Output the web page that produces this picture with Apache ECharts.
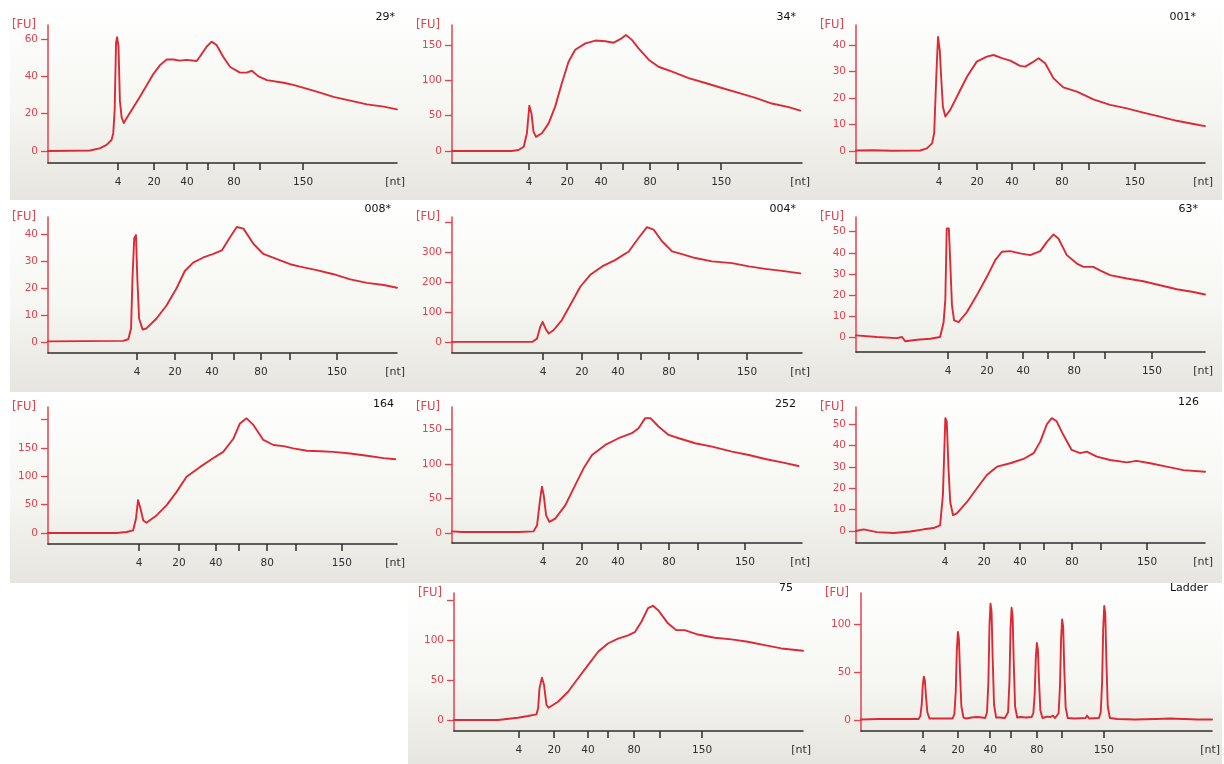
<!DOCTYPE html>
<html>
<head>
<meta charset="utf-8">
<script src="https://cdn.jsdelivr.net/npm/echarts@6/dist/echarts.min.js"></script>
<style>
html,body{margin:0;padding:0;background:#ffffff;}
#chart{width:1224px;height:764px;}
</style>
</head>
<body>
<div id="chart"></div>
<script>
// ---------- data ----------
// ladder fragment sizes (nt) used for x ticks; only some are labelled
const ladderSizes = [4, 20, 40, 60, 80, 100, 150];
const labeledSizes = [4, 20, 40, 80, 150];

const sampleNames = ['29*', '34*', '001*', '008*', '004*', '63*', '164', '252', '126', '75', 'Ladder'];

// migration position (0-100 across the run window) of each ladder size, per sample
const ladder_29  = [20.1, 30.4, 39.8, 45.8, 53.3, 60.7, 73.1];
const ladder_34  = [22.0, 32.9, 42.6, 48.9, 56.6, 64.6, 76.9];
const ladder_001 = [23.8, 34.7, 44.7, 51.0, 59.0, 66.8, 79.9];
const ladder_008 = [25.5, 36.4, 47.0, 53.3, 61.0, 69.3, 82.8];
const ladder_004 = [26.0, 37.1, 47.4, 54.0, 62.0, 70.3, 84.3];
const ladder_63  = [26.4, 37.5, 47.9, 55.0, 62.5, 71.3, 84.8];
const ladder_164 = [26.1, 37.5, 48.1, 54.7, 62.8, 71.1, 84.2];
const ladder_252 = [26.0, 37.1, 47.4, 54.0, 62.0, 70.3, 83.7];
const ladder_126 = [25.5, 36.7, 47.0, 53.9, 61.9, 70.2, 83.4];
const ladder_75  = [18.6, 28.7, 38.4, 44.1, 51.6, 59.0, 71.1];
const ladder_L   = [17.7, 27.6, 36.8, 42.7, 50.1, 57.3, 69.2];

// y tick values and labelled values [FU]
const yTicks_29 = [0, 20, 40, 60];            const yLabels_29 = [0, 20, 40, 60];
const yTicks_34 = [0, 50, 100, 150];          const yLabels_34 = [0, 50, 100, 150];
const yTicks_001 = [0, 10, 20, 30, 40];       const yLabels_001 = [0, 10, 20, 30, 40];
const yTicks_008 = [0, 10, 20, 30, 40];       const yLabels_008 = [0, 10, 20, 30, 40];
const yTicks_004 = [0, 100, 200, 300, 400];   const yLabels_004 = [0, 100, 200, 300];
const yTicks_63 = [0, 10, 20, 30, 40, 50];    const yLabels_63 = [0, 10, 20, 30, 40, 50];
const yTicks_164 = [0, 50, 100, 150, 200];    const yLabels_164 = [0, 50, 100, 150];
const yTicks_252 = [0, 50, 100, 150];         const yLabels_252 = [0, 50, 100, 150];
const yTicks_126 = [0, 10, 20, 30, 40, 50];   const yLabels_126 = [0, 10, 20, 30, 40, 50];
const yTicks_75 = [0, 50, 100, 150];          const yLabels_75 = [0, 50, 100];
const yTicks_L = [0, 50, 100];                const yLabels_L = [0, 50, 100];

// y axis ranges [FU]
const yRange_29 = [-6.4, 67.5];
const yRange_34 = [-17, 178];
const yRange_001 = [-4.5, 47.5];
const yRange_008 = [-4.1, 46.3];
const yRange_004 = [-37, 417];
const yRange_63 = [-7.1, 57];
const yRange_164 = [-19.4, 222];
const yRange_252 = [-14.4, 182];
const yRange_126 = [-5.6, 58];
const yRange_75 = [-13.75, 159];
const yRange_L = [-11.5, 132];

// electropherogram traces: [migration position, fluorescence FU]
const trace_29 = [[0,0],[6,0.2],[12,0.3],[14.8,1.4],[16.7,3.2],[18.2,5.9],[18.7,9.5],[19.1,22],[19.5,58],[19.8,61],[20.2,56],[20.6,27],[21.1,18],[21.7,15],[23,19],[26.3,29],[30.1,41],[32.1,46],[34,49],[35.9,49],[37.8,48.4],[39.7,48.8],[42.6,48.2],[43.5,50.5],[45.5,56],[46.9,58.6],[48.3,56.8],[50.2,50.5],[52.2,45],[55,42],[56.9,42],[58.4,43],[60.3,40],[62.7,38],[67.5,36.6],[70.3,35.4],[77,31.8],[81.8,29],[86.6,27],[91.4,25],[96.2,23.8],[100,22.3]];
const trace_34 = [[0,0],[17.1,0],[19,1.4],[20.5,6],[21.4,25],[22.1,64],[22.7,53],[23.3,27],[24,20],[25.7,25],[27.6,39],[29.5,63],[31.4,96],[33.3,126],[35.2,143],[38.1,152],[41,156],[43.8,155],[46.2,153],[48.1,158],[49.7,164],[51.4,157],[53.3,145],[56.2,129],[59,119],[62.9,112],[67.6,103],[72.4,96],[77.1,89],[81.9,82],[86.7,75],[91.4,67],[96.2,62],[99.5,57]];
const trace_001 = [[0,0.2],[5,0.3],[10,0.1],[18.4,0.2],[20.3,1],[21.8,2.9],[22.4,6.7],[23,28],[23.5,43],[24,38],[24.4,28],[24.9,16.7],[25.6,13],[27,15.5],[29.4,21.8],[31.8,28],[34.6,33.7],[37.5,35.6],[39.4,36.2],[41.8,35],[44.2,34.1],[47,32.1],[48.5,31.8],[50.4,33.3],[52.3,35],[54.2,33.1],[56.6,27.4],[59.4,24],[63.3,22.4],[68,19.5],[72.8,17.4],[77.6,16.1],[82.3,14.5],[87.1,13],[91.9,11.4],[96.7,10.2],[100,9.4]];
const trace_008 = [[0,0.2],[10,0.3],[21.5,0.4],[23,1],[23.8,5],[24.2,23.3],[24.7,38.4],[25.2,39.6],[25.6,23.3],[26.1,8.7],[27.1,4.6],[28.2,5],[31.1,8.7],[34,13.6],[36.8,19.8],[39.2,26.3],[41.6,29.4],[44.5,31.3],[47.4,32.6],[49.8,33.9],[52.2,38.9],[54.1,42.6],[56,42],[58.9,36.3],[61.7,32.6],[65.6,30.7],[69.4,28.8],[72.2,27.9],[77,26.6],[81.8,25.1],[86.6,23.2],[91.4,21.9],[96.2,21.1],[100,20.1]];
const trace_004 = [[0,0],[22.9,0],[24.3,11],[25.2,50],[25.9,67],[26.7,45],[27.6,28],[29,39],[31.4,73],[34.3,134],[36.7,185],[39.5,224],[42.9,252],[46.7,274],[50.5,302],[53.3,347],[55.7,383],[57.6,375],[60,336],[62.9,302],[65.7,293],[69.5,280],[74.3,269],[80,263],[84.8,252],[89.5,244],[94.3,237],[99.5,229]];
const trace_63 = [[0,0.8],[6,0],[11.7,-0.5],[13.2,0],[14.1,-2],[17.5,-1.3],[21.3,-0.8],[24.1,0],[25.1,7],[25.6,18],[26,51.6],[26.6,51.6],[27,35.7],[27.5,15],[28.1,7.9],[29.4,7.1],[31.8,11.9],[34.6,19.8],[37.5,28.6],[39.9,36.5],[41.8,40.5],[44.2,40.8],[47,39.7],[49.9,38.9],[52.8,40.8],[54.7,45.2],[56.6,48.7],[58,46.8],[60.4,38.9],[63.3,34.9],[65.2,33.3],[68,33.3],[69.9,31.7],[72.8,29.4],[77.6,27.8],[82.3,26.5],[87.1,24.6],[91.9,22.7],[96.7,21.4],[100,20.2]];
const trace_164 = [[0,0],[19.6,0],[22.5,1.8],[24.4,4.7],[25.2,25],[25.8,58],[26.5,43],[27.3,22],[28.2,18],[31.1,31],[34,49],[36.8,72],[39.7,99],[43.5,116],[47.4,132],[50.2,143],[53.1,166],[55,193],[56.9,202],[58.9,190],[61.7,164],[64.6,155],[67.5,153],[70.3,149],[74.2,145],[78,144],[81.8,143],[86.6,140],[91.4,136],[96.2,132],[99.5,130]];
const trace_252 = [[0,2.4],[2.9,1.5],[19,1.5],[23.3,2.4],[24.3,11.1],[25.2,49.8],[25.7,66.8],[26.2,54.7],[26.9,25.6],[27.8,16],[29.5,20.8],[32.4,40.2],[35.2,69.2],[37.6,93.4],[40,112.7],[43.8,127.2],[47.6,136.9],[51.4,144.2],[53.3,151.4],[55.2,165.9],[56.7,165.9],[59,153.8],[61.9,141.7],[64.8,136.9],[69.5,129.7],[74.3,124.8],[80,117.6],[84.8,112.7],[89.5,106.9],[94.3,102.1],[99,96.8]];
const trace_126 = [[0,0],[2.2,0.8],[6,-0.5],[10.8,-0.9],[15.6,-0.2],[19.4,0.8],[22.2,1.4],[24.1,2.7],[24.9,16.8],[25.6,52.8],[26,51.3],[26.5,29.3],[27,13.6],[27.8,7.4],[28.9,8.2],[31.8,13.6],[34.6,19.9],[37.5,26.2],[40.4,30.1],[44.2,31.7],[48,33.7],[50.9,36.4],[52.8,41.8],[54.7,50],[56.1,52.8],[57.5,51.3],[59.4,45],[61.8,37.9],[64.2,36.4],[66.1,37.1],[69,34.8],[72.8,33.2],[77.6,32.1],[80.4,32.8],[84.3,31.7],[89,30.1],[93.8,28.5],[100,27.7]];
const trace_75 = [[0,0],[12.6,0],[12.7,1.2],[18.3,2.9],[21.2,5],[23.6,7],[24.1,14.6],[24.5,39.6],[25.2,53],[25.8,43.8],[26.5,18.8],[27.1,15.4],[29.8,22.9],[32.7,35.4],[35.5,52],[38.4,68.8],[41.3,85.4],[44.1,95.8],[47,102],[49.9,106],[51.8,110],[53.7,123],[55.6,140],[57,143],[58.5,137.5],[61.3,121],[63.7,112.5],[66.1,112.5],[69.9,107],[74.7,103],[79.5,101],[84.2,98],[89,93.8],[93.8,89.6],[100,86.7]];
const trace_L = [[0,0.5],[5,1],[11,1],[16.4,1],[16.9,4],[17.3,16],[17.6,36],[17.9,45],[18.2,41],[18.5,25],[18.9,8],[19.5,1.5],[22,1.5],[26.1,1.5],[26.6,6],[27.0,30],[27.3,72],[27.6,91.6],[27.9,84],[28.2,50],[28.6,14],[29.2,2.5],[30,1.5],[31.5,2.5],[33,3],[34.5,2.5],[35.4,2],[35.9,8],[36.3,40],[36.6,98],[36.9,121],[37.2,112],[37.5,66],[37.9,16],[38.5,2.5],[39.5,2.5],[41,2],[41.4,2.5],[41.9,8],[42.3,40],[42.6,95],[42.9,116.7],[43.2,108],[43.5,62],[43.9,14],[44.5,2.5],[45.5,3],[47,2.5],[48.6,3],[49.1,7],[49.5,28],[49.8,64],[50.1,80],[50.4,73],[50.7,42],[51.1,10],[51.7,2],[53,3.5],[54,3],[54.7,4.5],[55.3,2],[55.8,2.5],[56.3,7],[56.7,36],[57.0,84],[57.3,104.5],[57.6,97],[57.9,55],[58.3,13],[58.9,2],[61,1.5],[64,2],[64.4,4.5],[65,1.5],[67.8,2],[68.3,8],[68.7,40],[69.0,95],[69.3,118.5],[69.6,110],[69.9,62],[70.3,14],[70.9,2],[73,1],[78,0.5],[84,1],[88,1.5],[92,1],[96,0.5],[100,0.5]];

// ---------- panel assembly ----------
const samples = [
  {name: sampleNames[0],  trace: trace_29,  ladder: ladder_29,  yTicks: yTicks_29,  yLabels: yLabels_29,  yRange: yRange_29},
  {name: sampleNames[1],  trace: trace_34,  ladder: ladder_34,  yTicks: yTicks_34,  yLabels: yLabels_34,  yRange: yRange_34},
  {name: sampleNames[2],  trace: trace_001, ladder: ladder_001, yTicks: yTicks_001, yLabels: yLabels_001, yRange: yRange_001},
  {name: sampleNames[3],  trace: trace_008, ladder: ladder_008, yTicks: yTicks_008, yLabels: yLabels_008, yRange: yRange_008},
  {name: sampleNames[4],  trace: trace_004, ladder: ladder_004, yTicks: yTicks_004, yLabels: yLabels_004, yRange: yRange_004},
  {name: sampleNames[5],  trace: trace_63,  ladder: ladder_63,  yTicks: yTicks_63,  yLabels: yLabels_63,  yRange: yRange_63},
  {name: sampleNames[6],  trace: trace_164, ladder: ladder_164, yTicks: yTicks_164, yLabels: yLabels_164, yRange: yRange_164},
  {name: sampleNames[7],  trace: trace_252, ladder: ladder_252, yTicks: yTicks_252, yLabels: yLabels_252, yRange: yRange_252},
  {name: sampleNames[8],  trace: trace_126, ladder: ladder_126, yTicks: yTicks_126, yLabels: yLabels_126, yRange: yRange_126},
  {name: sampleNames[9],  trace: trace_75,  ladder: ladder_75,  yTicks: yTicks_75,  yLabels: yLabels_75,  yRange: yRange_75},
  {name: sampleNames[10], trace: trace_L,   ladder: ladder_L,   yTicks: yTicks_L,   yLabels: yLabels_L,   yRange: yRange_L}
];

// layout: plot box [left, top, width, height], sample label [rightX, topY], panel background [x, y, w, h]
const layout = [
  {grid: [48, 25, 349, 138],  label: [395, 12],   bg: [10, 0, 395, 200]},
  {grid: [452, 25, 350, 138], label: [796, 12],   bg: [405, 0, 405, 200]},
  {grid: [856, 25, 349, 138], label: [1196, 12],  bg: [810, 0, 412, 200]},
  {grid: [48, 217, 349, 136], label: [391, 204],  bg: [10, 200, 395, 192]},
  {grid: [452, 217, 350, 136],label: [796, 204],  bg: [405, 200, 405, 192]},
  {grid: [856, 217, 349, 135],label: [1198, 204], bg: [810, 200, 412, 192]},
  {grid: [48, 407, 349, 137], label: [394, 399],  bg: [10, 392, 395, 191]},
  {grid: [452, 407, 350, 136],label: [796, 399],  bg: [405, 392, 405, 191]},
  {grid: [856, 407, 349, 136],label: [1199, 397], bg: [810, 392, 412, 191]},
  {grid: [454, 593, 349, 138],label: [793, 583],  bg: [408, 583, 402, 181]},
  {grid: [861, 593, 351, 138],label: [1208, 583], bg: [810, 583, 412, 181]}
];

const RED = '#e6414d';
const LINE = '#dc2a35';
const DARK = '#2e2e2e';
const FONT = 'DejaVu Sans';
const FS = 10.5;

const grids = [], xAxes = [], yAxes = [], series = [], titles = [], bgs = [];

samples.forEach((s, i) => {
  const L = layout[i];
  grids.push({left: L.grid[0], top: L.grid[1], width: L.grid[2], height: L.grid[3], outerBoundsMode: 'none', containLabel: false});
  const labeledPos = s.ladder.filter((p, j) => labeledSizes.indexOf(ladderSizes[j]) >= 0);
  const ladder = s.ladder;
  xAxes.push({
    gridIndex: i, type: 'value', min: 0, max: 100,
    axisLine: {show: true, onZero: false, lineStyle: {color: DARK, width: 1.5}},
    axisTick: {show: true, length: 7, customValues: ladder, lineStyle: {color: DARK, width: 1.5}},
    axisLabel: {
      show: true, customValues: labeledPos, margin: 14, color: DARK, fontSize: FS, fontFamily: FONT,
      formatter: function (v) {
        for (let j = 0; j < ladder.length; j++) { if (Math.abs(ladder[j] - v) < 1e-6) return String(ladderSizes[j]); }
        return '';
      }
    },
    splitLine: {show: false},
    name: '[nt]', nameLocation: 'end', nameGap: 8,
    nameTextStyle: {color: DARK, fontSize: FS + 0.5, fontFamily: FONT, align: 'right', verticalAlign: 'top', padding: [14, 0, 0, 0]}
  });
  yAxes.push({
    gridIndex: i, type: 'value', min: s.yRange[0], max: s.yRange[1],
    axisLine: {show: true, onZero: false, lineStyle: {color: RED, width: 1.5}},
    axisTick: {show: true, length: 7, customValues: s.yTicks, lineStyle: {color: RED, width: 1.3}},
    axisLabel: {show: true, customValues: s.yLabels, margin: 10, color: RED, fontSize: FS, fontFamily: FONT},
    splitLine: {show: false},
    name: '[FU]', nameLocation: 'end', nameGap: 0,
    nameTextStyle: {color: RED, fontSize: FS + 1, fontFamily: FONT, align: 'right', verticalAlign: 'middle', padding: [0, 12, 6, 0]}
  });
  series.push({
    type: 'line', name: s.name, xAxisIndex: i, yAxisIndex: i, data: s.trace,
    showSymbol: false, symbol: 'none', smooth: false,
    lineStyle: {color: LINE, width: 1.9, join: 'round', cap: 'round'}, z: 3
  });
  titles.push({
    text: s.name, left: L.label[0], top: L.label[1], textAlign: 'right', padding: 0,
    textStyle: {color: '#111', fontSize: FS + 0.5, fontWeight: 'normal', fontFamily: FONT}
  });
  bgs.push({
    type: 'rect', z: -10, silent: true,
    shape: {x: L.bg[0], y: L.bg[1], width: L.bg[2], height: L.bg[3]},
    style: {fill: {type: 'linear', x: 0, y: 0, x2: 0, y2: 1, colorStops: [
      {offset: 0, color: '#ffffff'}, {offset: 0.55, color: '#f6f6f2'}, {offset: 1, color: '#e6e5df'}]}}
  });
});

const chart = echarts.init(document.getElementById('chart'), null, {renderer: 'canvas'});
chart.setOption({
  backgroundColor: '#ffffff',
  animation: false,
  title: titles,
  graphic: {elements: bgs},
  grid: grids,
  xAxis: xAxes,
  yAxis: yAxes,
  series: series
});
</script>
</body>
</html>
